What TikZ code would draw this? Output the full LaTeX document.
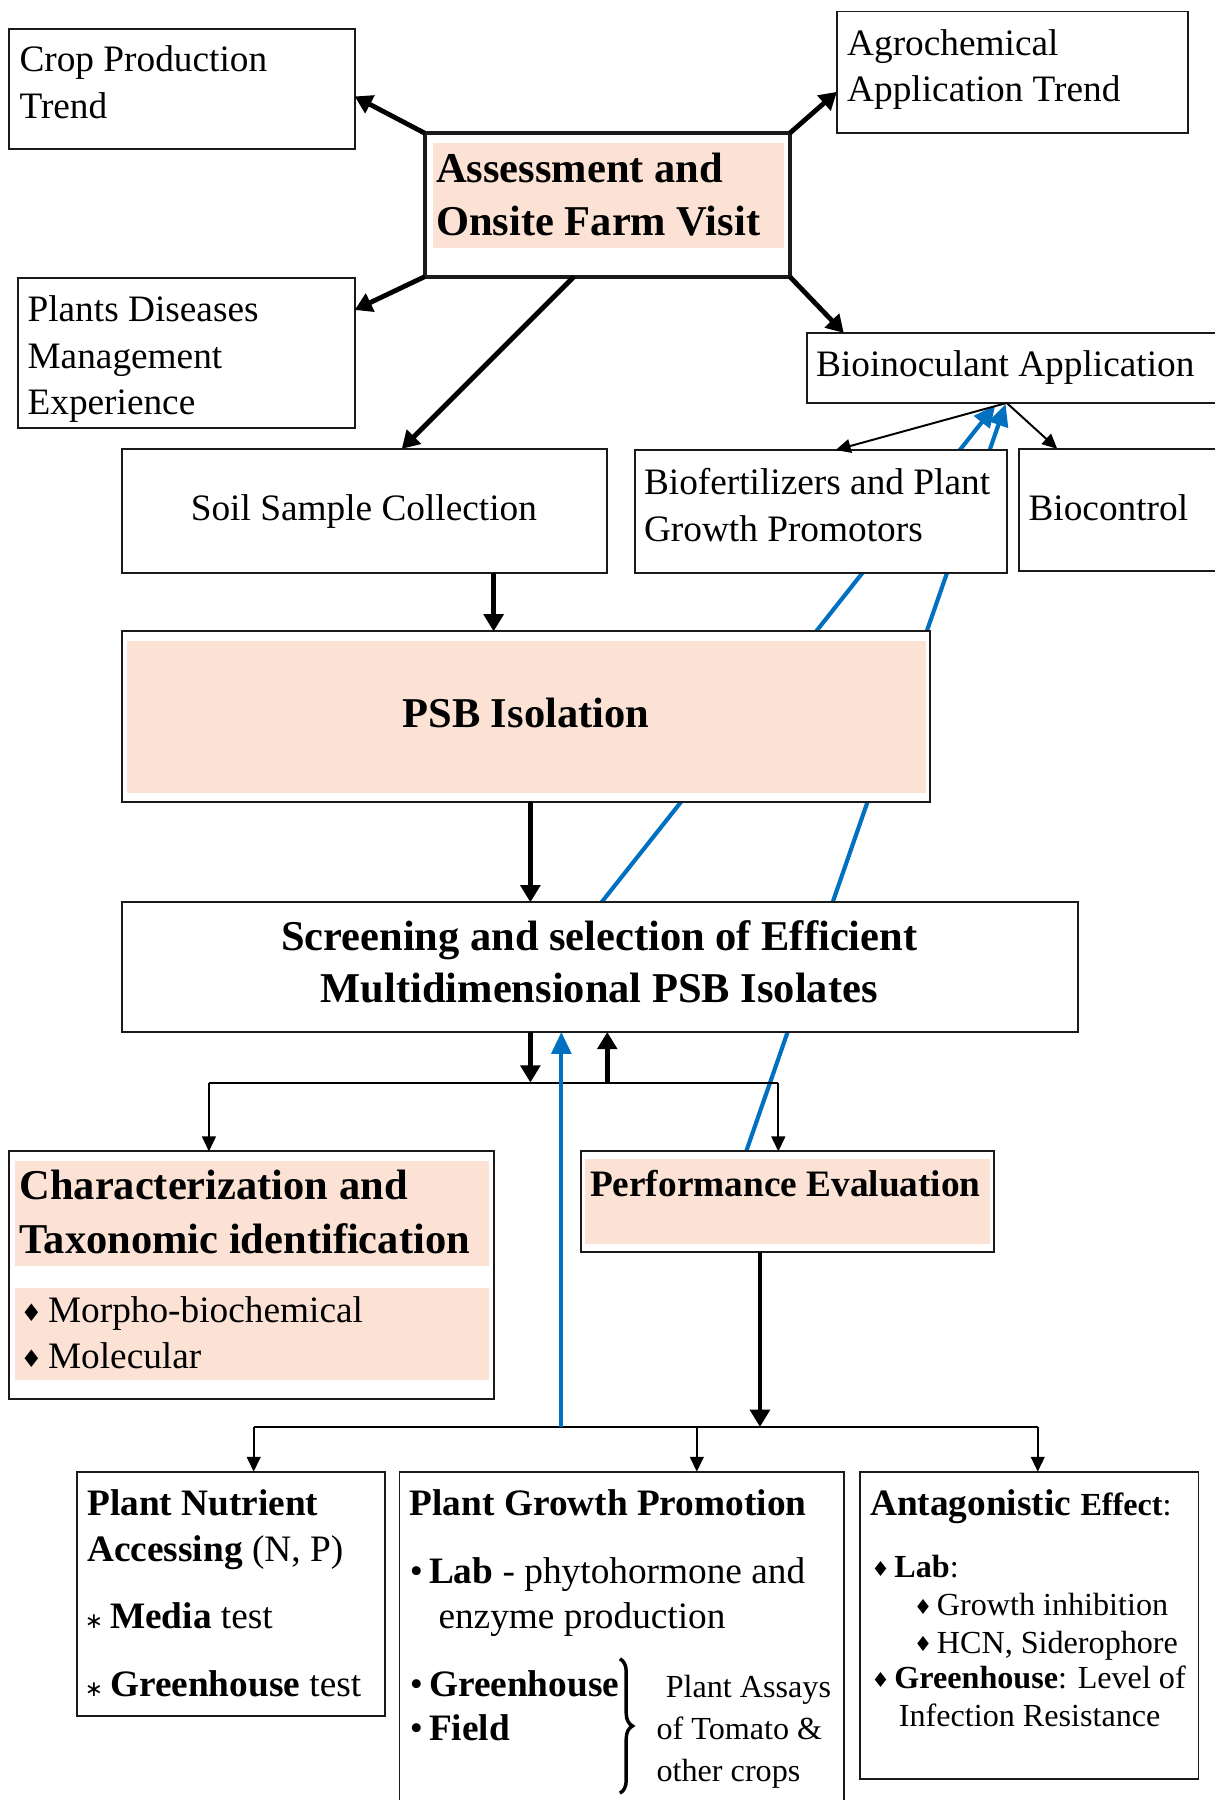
\documentclass[tikz,border=0pt]{standalone}
\usepackage{fontspec}
\setmainfont{Liberation Serif}
\newfontfamily\dejavu{DejaVu Sans}
\usetikzlibrary{arrows.meta,fit,calc,decorations.pathreplacing}
\definecolor{peach}{HTML}{FBE2D5}
\definecolor{lineblue}{HTML}{0070C0}
\definecolor{edge}{HTML}{1A1A1A}
\newcommand\fN{\fontsize{32.5}{41}\selectfont}
\newcommand\fH{\fontsize{37}{46}\selectfont\bfseries}
\newcommand\fB{\fontsize{32.5}{41}\selectfont\bfseries}
\newcommand\fS{\fontsize{28}{33}\selectfont}
\newcommand\dmd{{\dejavu\fontsize{21}{21}\selectfont\raisebox{1pt}{♦}}\hspace{5pt}}
\newcommand\dmds{{\dejavu\fontsize{18}{18}\selectfont\raisebox{1pt}{♦}}\hspace{4pt}}
\newcommand\myast{{\dejavu\fontsize{19}{19}\selectfont ∗}\hspace{6pt}}
\begin{document}
\begin{tikzpicture}[x=1pt,y=-1pt,
  bx/.style={draw=edge,line width=1.7pt,fill=white,inner sep=0pt,outer sep=0pt},
  bxk/.style={bx,line width=3.5pt},
  txt/.style={anchor=base west,inner sep=0pt,outer sep=0pt},
  ctxt/.style={anchor=base,inner sep=0pt,outer sep=0pt},
  thk/.style={line width=4.2pt,-{Triangle[length=15pt,width=17pt]}},
  thn/.style={line width=1.7pt},
  thnA/.style={line width=1.7pt,-{Triangle[length=13pt,width=12pt]}},
  blu/.style={draw=lineblue,line width=3.6pt,-{Triangle[length=19pt,width=17pt]}}
]
\useasboundingbox (0,0) rectangle (1058,1568);
\fill[white] (0,0) rectangle (1058,1568);

% helper coordinates
\coordinate (blueAstart) at (524,786);
\coordinate (blueBstart) at (650,1003);
\coordinate (tipA) at (867,353);
\coordinate (tipB) at (876,352);

% blue connectors (behind boxes)
\draw[blu] (blueAstart) -- (tipA);
\draw[blu] (blueBstart) -- (tipB);

% boxes
\node[bx,fit={(8,25) (309,130)}] (crop) {};
\node[bxk,fit={(370,116) (688,241)}] (asm) {};
\node[bx,fit={(729,10) (1035,116)}] (agro) {};
\node[bx,fit={(16,242) (309,373)}] (plants) {};
\node[bx,fit={(703,290) (1068,351)}] (bio) {};
\node[bx,fit={(106,391) (529,499)}] (soil) {};
\node[bx,fit={(553,392) (877,499)}] (biofert) {};
\node[bx,fit={(888,391) (1068,497)}] (bioc) {};
\node[bx,fit={(106,550) (810,699)}] (psb) {};
\node[bx,fit={(106,786) (939,899)}] (scr) {};
\node[bx,fit={(8,1003) (430,1219)}] (char) {};
\node[bx,fit={(506,1003) (866,1091)}] (perf) {};
\node[bx,fit={(67,1282) (335,1495)}] (pna) {};
\node[bx,fit={(348,1282) (735,1580)}] (pgp) {};
\node[bx,fit={(749,1282) (1044,1550)}] (ant) {};

% peach fills
\fill[peach] (377,125) rectangle (683,216);
\fill[peach] (111,558) rectangle (807,691);
\fill[peach] (13,1011) rectangle (426,1103);
\fill[peach] (13,1122) rectangle (426,1202);
\fill[peach] (510,1010) rectangle (862,1084);

% texts
\node[txt] (tcrop1) at (17,62) {\fN Crop Production};
\node[txt] (tcrop2) at (17,103) {\fN Trend};
\node[txt] (tagro1) at (738,48) {\fN Agrochemical};
\node[txt] (tagro2) at (738,88) {\fN Application Trend};
\node[txt] (tasm1) at (380,159) {\fH Assessment and};
\node[txt] (tasm2) at (380,205) {\fH Onsite Farm Visit};
\node[txt] (tpl1) at (24,280) {\fN Plants Diseases};
\node[txt] (tpl2) at (24,321) {\fN Management};
\node[txt] (tpl3) at (24,361) {\fN Experience};
\node[txt] (tbio) at (711,328) {\fN Bioinoculant Application};
\node[ctxt] (tsoil) at (317,453) {\fN Soil Sample Collection};
\node[txt] (tbf1) at (561,431) {\fN Biofertilizers and Plant};
\node[txt] (tbf2) at (561,472) {\fN Growth Promotors};
\node[txt] (tbc) at (896,453) {\fN Biocontrol};
\node[ctxt] (tpsb) at (458,634) {\fH PSB Isolation};
\node[ctxt] (tscr1) at (522,828) {\fH Screening and selection of Efficient};
\node[ctxt] (tscr2) at (522,873) {\fH Multidimensional PSB Isolates};
\node[txt] (tch1) at (17,1045) {\fH Characterization and};
\node[txt] (tch2) at (17,1092) {\fH Taxonomic identification};
\node[txt] (tch3) at (18,1152) {\fN\dmd Morpho-biochemical};
\node[txt] (tch4) at (18,1192) {\fN\dmd Molecular};
\node[txt] (tperf) at (514,1042) {\fB Performance Evaluation};
\node[txt] (tpn1) at (76,1320) {\fB Plant Nutrient};
\node[txt] (tpn2) at (76,1360) {\fN\textbf{Accessing} (N, P)};
\node[txt] (tpn3) at (74,1419) {\fN\myast\textbf{Media} test};
\node[txt] (tpn4) at (74,1478) {\fN\myast\textbf{Greenhouse} test};
\node[txt] (tpg1) at (357,1320) {\fB Plant Growth Promotion};
\node[txt] (tpg2) at (357,1379) {\fN •\,\textbf{Lab} - phytohormone and};
\node[txt] (tpg3) at (382,1419) {\fN enzyme production};
\node[txt] (tpg4) at (357,1478) {\fN •\,\textbf{Greenhouse}};
\node[txt] (tpg5) at (357,1516) {\fN •\,\textbf{Field}};
\node[txt] (tpg6) at (580,1479) {\fS Plant Assays};
\node[txt] (tpg7) at (572,1515) {\fS of Tomato \&};
\node[txt] (tpg8) at (572,1552) {\fS other crops};
\node[txt] (tan1) at (758,1320) {\fB Antagonistic {\fS\bfseries Effect}{\fS\mdseries :}};
\node[txt] (tan2) at (759,1374) {\fS\dmds\textbf{Lab}:};
\node[txt] (tan3) at (796,1407) {\fS\dmds Growth inhibition};
\node[txt] (tan4) at (796,1440) {\fS\dmds HCN, Siderophore};
\node[txt] (tan5) at (759,1471) {\fS\dmds\textbf{Greenhouse}: Level of};
\node[txt] (tan6) at (783,1504) {\fS Infection Resistance};

% brace
\coordinate (brT) at (540,1445);
\coordinate (brB) at (540,1562);
\draw[decorate,decoration={brace,amplitude=11pt},line width=3pt] (brT) -- (brB);

% black connectors from assessment
\draw[thk] (asm.north west) -- ($(crop.east)+(0,6.5)$);
\draw[thk] (asm.north east) -- ($(agro.west)+(0,17)$);
\draw[thk] (asm.south west) -- ($(plants.east)+(0,-37.5)$);
\draw[thk] (asm.south east) -- ($(bio.north west)+(32,0)$);
\draw[thk] ($(asm.south)+(-29,0)$) -- ($(soil.north)+(32.5,0)$);

% bioinoculant branches
\coordinate (bioS) at ($(bio.south)+(-8.5,0)$);
\draw[thnA] (bioS) -- ($(biofert.north)+(13,0)$);
\draw[thnA] (bioS) -- ($(bioc.north)+(-57,0)$);

% main vertical flow
\coordinate (x430) at (430,0);
\coordinate (x462) at (462,0);
\draw[thk] (soil.south -| x430) -- (psb.north -| x430);
\draw[thk] (psb.south -| x462) -- (scr.north -| x462);

\coordinate (j1) at (462,943);
\coordinate (jl) at (182,943);
\coordinate (jr) at (678,943);
\coordinate (ju) at (529,943);
\draw[thk] (scr.south -| j1) -- (j1);
\draw[thn] (jl) -- (jr);
\draw[thnA] (jl) -- (char.north -| jl);
\draw[thnA] (jr) -- (perf.north -| jr);
\draw[thk] (ju) -- (scr.south -| ju);

\coordinate (k1) at (662,1243);
\coordinate (kl) at (221,1243);
\coordinate (km) at (607,1243);
\coordinate (kr) at (904,1243);
\coordinate (bb) at (489,1243);
\draw[thk] (perf.south -| k1) -- (k1);
\draw[thn] (kl) -- (kr);
\draw[thnA] (kl) -- (pna.north -| kl);
\draw[thnA] (km) -- (pgp.north -| km);
\draw[thnA] (kr) -- (ant.north -| kr);
\draw[blu] (bb) -- (scr.south -| bb);
\end{tikzpicture}
\end{document}
